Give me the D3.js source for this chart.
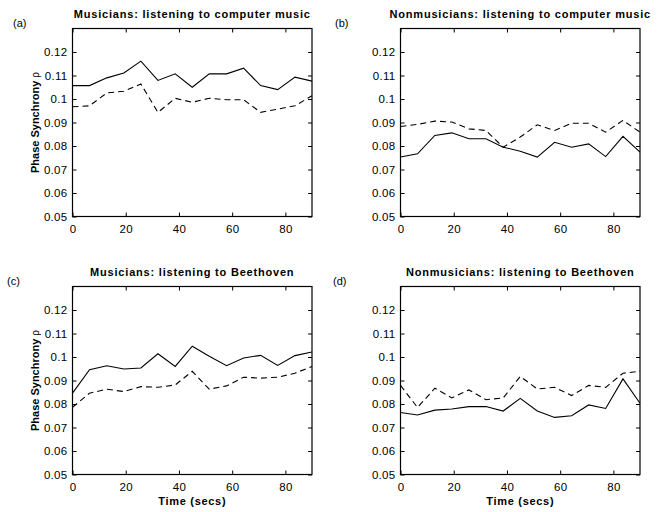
<!DOCTYPE html>
<html>
<head>
<meta charset="utf-8">
<script src="https://cdn.jsdelivr.net/npm/d3@7"></script>
<style>
  body { margin: 0; background: #fff; }
  svg { display: block; font-family: "Liberation Sans", Arial, Helvetica, sans-serif; }
  .tick text { font-size: 11.5px; letter-spacing: 0.3px; fill: #000; }
  .tick line { stroke: #000; }
  .domain { display: none; }
</style>
</head>
<body>
<div id="viz"></div>
<script>
// time points (secs)
var times = [0, 6.4, 12.9, 19.3, 25.7, 32.1, 38.6, 45, 51.4, 57.9, 64.3, 70.7, 77.1, 83.6, 90];

// (a) musicians, computer music
var musCompSolid  = [0.1057, 0.1057, 0.1090, 0.1111, 0.1161, 0.1079, 0.1107, 0.1050, 0.1107, 0.1107, 0.1131, 0.1057, 0.1040, 0.1093, 0.1076];
var musCompDashed = [0.0967, 0.0971, 0.1026, 0.1033, 0.1064, 0.0943, 0.1003, 0.0986, 0.1003, 0.0997, 0.0997, 0.0943, 0.0957, 0.0971, 0.1014];
// (b) nonmusicians, computer music
var nonCompSolid  = [0.0753, 0.0767, 0.0845, 0.0856, 0.0831, 0.0831, 0.0795, 0.0778, 0.0753, 0.0816, 0.0795, 0.0809, 0.0755, 0.0841, 0.0774];
var nonCompDashed = [0.0883, 0.0892, 0.0906, 0.0902, 0.0873, 0.0866, 0.0795, 0.0838, 0.0890, 0.0866, 0.0897, 0.0897, 0.0859, 0.0909, 0.0859];
// (c) musicians, Beethoven
var musBeetSolid  = [0.0846, 0.0946, 0.0963, 0.0949, 0.0953, 0.1014, 0.0960, 0.1046, 0.1003, 0.0963, 0.0996, 0.1007, 0.0964, 0.1006, 0.1021];
var musBeetDashed = [0.0786, 0.0846, 0.0863, 0.0853, 0.0874, 0.0871, 0.0881, 0.0939, 0.0863, 0.0877, 0.0914, 0.0910, 0.0914, 0.0931, 0.0960];
// (d) nonmusicians, Beethoven
var nonBeetSolid  = [0.0764, 0.0753, 0.0774, 0.0779, 0.0789, 0.0789, 0.0770, 0.0824, 0.0770, 0.0743, 0.0750, 0.0796, 0.0781, 0.0907, 0.0803];
var nonBeetDashed = [0.0879, 0.0785, 0.0867, 0.0826, 0.0860, 0.0818, 0.0826, 0.0917, 0.0864, 0.0871, 0.0836, 0.0879, 0.0871, 0.0931, 0.0939];

var titles = ["Musicians: listening to computer music", "Nonmusicians: listening to computer music",
              "Musicians: listening to Beethoven", "Nonmusicians: listening to Beethoven"];
var letters = ["(a)", "(b)", "(c)", "(d)"];
var yTicks = [0.05, 0.06, 0.07, 0.08, 0.09, 0.1, 0.11, 0.12];
var xTicks = [0, 20, 40, 60, 80];

var panels = [
  {solid: musCompSolid, dashed: musCompDashed, col: 0, row: 0, lx: 13},
  {solid: nonCompSolid, dashed: nonCompDashed, col: 1, row: 0, lx: 335},
  {solid: musBeetSolid, dashed: musBeetDashed, col: 0, row: 1, lx: 7},
  {solid: nonBeetSolid, dashed: nonBeetDashed, col: 1, row: 1, lx: 333}
];

var W = 669, H = 512;
var colX = [72.5, 400.5], rowY = [28.5, 286.5];
var pw = 239.5, ph = 188;

var svg = d3.select("#viz").append("svg")
    .attr("width", W)
    .attr("height", H);

var x = d3.scaleLinear().domain([0, 90]).range([0, pw]);
var y = d3.scaleLinear().domain([0.05, 0.13]).range([ph, 0]);
var fmt = function(d) { return String(+d.toFixed(2)); };

panels.forEach(function(p, i) {
  var g = svg.append("g")
      .attr("transform", "translate(" + colX[p.col] + "," + rowY[p.row] + ")");

  // inward ticks on all four sides
  g.append("g")
      .call(d3.axisLeft(y).tickValues(yTicks).tickSize(-4).tickPadding(5).tickFormat(fmt));
  g.append("g")
      .attr("transform", "translate(" + pw + ",0)")
      .call(d3.axisRight(y).tickValues(yTicks).tickSize(-4).tickFormat(""));
  g.append("g")
      .attr("transform", "translate(0," + ph + ")")
      .call(d3.axisBottom(x).tickValues(xTicks).tickSize(-4).tickPadding(8));
  g.append("g")
      .call(d3.axisTop(x).tickValues(xTicks).tickSize(-4).tickFormat(""));

  var line = d3.line()
      .x(function(d, j) { return x(times[j]); })
      .y(function(d) { return y(d); });

  g.append("path")
      .datum(p.dashed)
      .attr("d", line)
      .attr("fill", "none")
      .attr("stroke", "#000")
      .attr("stroke-width", 1.1)
      .attr("stroke-dasharray", "6,4");

  g.append("path")
      .datum(p.solid)
      .attr("d", line)
      .attr("fill", "none")
      .attr("stroke", "#000")
      .attr("stroke-width", 1.1);

  g.append("rect")
      .attr("width", pw)
      .attr("height", ph)
      .attr("fill", "none")
      .attr("stroke", "#000")
      .attr("stroke-width", 1.2);

  g.append("text")
      .attr("x", pw / 2)
      .attr("y", -11)
      .attr("text-anchor", "middle")
      .style("font-size", "11px")
      .style("font-weight", "bold")
      .style("letter-spacing", "0.8px")
      .text(titles[i]);

  svg.append("text")
      .attr("x", p.lx)
      .attr("y", rowY[p.row] - 1.5)
      .style("font-size", "11px")
      .text(letters[i]);

  if (p.col == 0) {
    var yl = g.append("text")
        .attr("transform", "translate(-34," + (ph / 2) + ")rotate(-90)")
        .attr("text-anchor", "middle")
        .style("font-size", "11px")
        .style("font-weight", "bold");
    yl.append("tspan").text("Phase Synchrony ");
    yl.append("tspan").style("font-weight", "normal").style("font-size", "10px").text("ρ");
  }
  if (p.row == 1) {
    g.append("text")
        .attr("x", pw / 2)
        .attr("y", ph + 30)
        .attr("text-anchor", "middle")
        .style("font-size", "11px")
        .style("font-weight", "bold")
        .style("letter-spacing", "0.7px")
        .text("Time (secs)");
  }
});
</script>
</body>
</html>
